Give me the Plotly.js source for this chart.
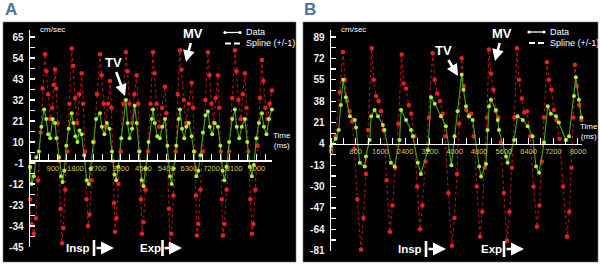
<!DOCTYPE html>
<html>
<head>
<meta charset="utf-8">
<script src="https://cdn.plot.ly/plotly-3.0.1.min.js"></script>
<style>html,body{margin:0;padding:0;background:#fff;}#chart{width:600px;height:265px;}</style>
</head>
<body>
<div id="chart"></div>
<script>
// ---------- Panel A data: [time ms, velocity cm/sec] ----------
const mvA = [[0,-20],[60,-33],[150,-38],[230,-30],[320,-10],[420,15],[500,38],[595,56],
[650,47],[720,35],[800,22],[880,28],[940,40],[991,48],[1040,38],[1100,20],[1160,0],[1210,-25],[1269,-43],
[1320,-35],[1400,-15],[1480,5],[1560,30],[1653,59],
[1710,50],[1790,33],[1870,20],[1960,35],[2050,46],[2110,30],[2180,5],[2240,-20],[2300,-34],
[2360,-28],[2440,-10],[2540,10],[2660,35],[2776,56],
[2840,45],[2920,30],[3000,18],[3090,30],[3172,42],[3230,28],[3290,0],[3330,-22],[3370,-37],
[3430,-30],[3510,-12],[3600,5],[3700,30],[3806,57],
[3870,47],[3950,30],[4050,20],[4140,35],[4231,45],[4290,30],[4350,5],[4400,-20],[4441,-38],
[4500,-32],[4580,-15],[4680,5],[4780,30],[4877,57],
[4940,46],[5020,30],[5120,18],[5240,28],[5353,39],[5410,25],[5470,0],[5510,-25],[5551,-44],
[5610,-38],[5690,-18],[5780,5],[5860,35],[5948,58],
[6010,48],[6100,32],[6200,20],[6300,30],[6411,41],[6470,28],[6530,5],[6580,-18],[6622,-39],
[6680,-33],[6760,-15],[6860,5],[6960,32],[7058,57],
[7120,45],[7200,30],[7290,20],[7370,33],[7454,45],[7510,28],[7570,5],[7610,-20],[7652,-39],
[7710,-33],[7800,-15],[7900,5],[8020,33],[8128,58],
[8190,47],[8270,32],[8360,22],[8440,35],[8525,46],[8590,28],[8660,5],[8740,-20],[8802,-38],
[8860,-33],[8940,-15],[9030,8],[9120,33],[9199,53],
[9260,42],[9340,28],[9420,22],[9510,30],[9595,37]];

const tvA = [[0,-3],[60,-12],[150,-8],[250,2],[350,5],[450,18],[560,27],[640,22],[720,14],[800,12],[900,22],[991,20],
[1050,12],[1150,2],[1230,-8],[1290,-11],[1360,-5],[1440,8],[1530,17],[1653,25],[1720,20],[1800,13],[1880,10],[1960,16],
[2050,14],[2150,3],[2250,-10],[2330,-12],[2400,-4],[2500,10],[2620,22],[2776,25],[2850,18],[2950,14],[3050,20],[3150,17],
[3250,5],[3350,-7],[3420,-10],[3500,-3],[3620,12],[3806,32],[3870,20],[3950,12],[4050,17],[4150,29],[4231,20],[4330,5],
[4430,-10],[4500,-13],[4580,-4],[4700,10],[4830,22],[4877,27],[4950,20],[5050,13],[5150,12],[5250,18],[5353,22],[5450,8],
[5550,-8],[5620,-12],[5700,-4],[5800,8],[5900,22],[5948,27],[6030,17],[6120,12],[6200,18],[6300,20],[6411,13],[6500,5],
[6600,-8],[6680,-5],[6760,3],[6860,15],[6960,24],[7058,26],[7130,18],[7230,14],[7330,20],[7454,18],[7550,8],[7640,-5],
[7710,-10],[7790,-3],[7900,10],[8020,22],[8128,27],[8200,18],[8300,12],[8400,18],[8525,22],[8620,10],[8720,-3],[8800,-8],
[8880,-2],[8980,12],[9080,20],[9199,25],[9280,18],[9380,14],[9480,22],[9595,27]];

const xTicksA = [0,900,1800,2700,3600,4500,5400,6300,7200,8100,9000];
const yTicksA = [65,54,43,32,21,10,-1,-12,-23,-34,-45];

// ---------- Panel B data ----------
const mvB = [[0,0],[150,10],[280,45],[389,77],[450,55],[520,38],[600,30],[680,22],[760,0],[850,-40],[971,-80],
[1050,-55],[1130,-20],[1200,15],[1318,80],[1380,55],[1460,42],[1540,38],[1620,30],[1700,15],[1800,-25],[1910,-66],
[1990,-45],[2080,-15],[2180,20],[2289,75],[2350,52],[2430,48],[2520,35],[2600,28],[2700,10],[2790,-30],[2882,-64],
[2960,-45],[3060,-10],[3170,25],[3293,76],[3360,55],[3440,44],[3530,38],[3620,28],[3700,10],[3800,-35],[3918,-77],
[4000,-55],[4080,-20],[4150,20],[4232,72],[4300,50],[4380,31],[4460,26],[4540,28],[4620,10],[4720,-30],[4825,-70],
[4900,-50],[4980,-15],[5050,25],[5116,79],[5180,60],[5260,47],[5340,30],[5420,25],[5500,5],[5600,-35],[5699,-73],
[5780,-50],[5860,-15],[5940,25],[6023,80],[6090,55],[6180,40],[6260,29],[6350,30],[6450,10],[6560,-30],[6670,-62],
[6750,-45],[6830,-10],[6900,25],[6994,69],[7060,55],[7140,47],[7220,31],[7300,23],[7400,8],[7520,-30],[7642,-70],
[7720,-50],[7790,-15],[7850,25],[7901,67],[7960,50],[8040,35],[8110,23]];

const tvB = [[0,2],[150,8],[250,15],[320,35],[389,55],[480,41],[610,26],[770,23],[810,17],[930,-11],[1090,-14],[1130,-6],
[1250,7],[1300,26],[1410,31],[1520,26],[1680,19],[1730,15],[1940,-11],[2060,-14],[2220,7],[2270,31],[2430,23],[2590,15],
[2650,10],[2810,-11],[2910,-20],[3140,-1],[3240,41],[3360,36],[3560,26],[3720,18],[3900,-13],[4000,10],[4100,30],[4232,59],
[4290,47],[4370,34],[4470,26],[4590,23],[4800,-14],[4860,-22],[5020,-12],[5070,15],[5120,34],[5180,39],[5340,31],[5400,23],
[5440,15],[5670,-6],[5720,-11],[5930,7],[6040,26],[6210,23],[6370,18],[6530,10],[6640,-14],[6740,-19],[6900,5],[7020,34],
[7120,28],[7290,26],[7380,21],[7610,7],[7710,10],[7870,42],[7930,57],[8030,39],[8110,25]];

const xTicksB = [0,800,1600,2400,3200,4000,4800,5600,6400,7200,8000];
const yTicksB = [89,72,55,38,21,4,-13,-30,-47,-64,-81];

const legendNames = ['Data', 'Spline (+/-1)'];

// ---------- styling ----------
const FONT = 'Liberation Sans, Arial, sans-serif';
const RED_LINE = '#b01616', RED_DOT = '#e42222';
const GRN_LINE = '#46a21c', GRN_DOT = '#b2ee36';
const YEL = '#d6ca44';
const X = px => px / 600;
const Y = py => 1 - py / 265;

function series(data, xa, ya, lineColor, dotColor, dash, msize) {
  return {
    x: data.map(p => p[0]), y: data.map(p => p[1]), xaxis: xa, yaxis: ya,
    type: 'scatter', mode: 'lines+markers', cliponaxis: false, showlegend: false,
    line: {color: lineColor, width: 1.1, dash: dash},
    marker: {color: dotColor, size: msize}
  };
}

const traces = [
  series(mvA, 'x', 'y', RED_LINE, RED_DOT, 'dot', 4.5),
  series(tvA, 'x', 'y', GRN_LINE, GRN_DOT, 'solid', 4),
  series(mvB, 'x2', 'y2', RED_LINE, RED_DOT, 'dot', 4.5),
  series(tvB, 'x2', 'y2', GRN_LINE, GRN_DOT, 'solid', 4)
];

// the origin label (first tick) sits on the axis crossing, where Plotly omits it; it is added as text below
function xAxis(domain, range, ticks, pos, minorDt) {
  const shown = ticks.slice(1);
  return {
    domain: domain, range: range, anchor: 'free', position: pos, side: 'bottom',
    showline: true, linecolor: 'white', linewidth: 1.5, showgrid: false, zeroline: false,
    tickmode: 'array', tickvals: shown, ticktext: shown.map(String), ticks: '',
    tickfont: {family: FONT, size: 7.5, color: YEL},
    minor: {ticks: 'inside', tick0: 0, dtick: minorDt, ticklen: 6, tickwidth: 1, tickcolor: 'white', showgrid: false}
  };
}
function yAxis(domain, range, ticks, xa, minorDt) {
  return {
    domain: domain, range: range, anchor: xa, showline: true, linecolor: 'white', linewidth: 1.5,
    showgrid: false, zeroline: false, tickmode: 'array', tickvals: ticks, ticktext: ticks.map(String),
    ticks: 'inside', ticklen: 5, tickwidth: 1.2, tickcolor: 'white', ticklabelstandoff: 3,
    tickfont: {family: FONT, size: 10, color: '#eeeeee', weight: 'bold'},
    minor: {ticks: 'inside', tick0: ticks[ticks.length - 1], dtick: minorDt, ticklen: 5, tickwidth: 1.2, tickcolor: 'white', showgrid: false}
  };
}

const txt = (text, x, y, size, bold, xanchor, color) => ({
  text: text, xref: 'paper', yref: 'paper', x: X(x), y: Y(y), showarrow: false,
  xanchor: xanchor || 'center', yanchor: 'middle',
  font: {family: FONT, size: size, color: color || 'white', weight: bold ? 'bold' : 'normal'}
});
const originLabel = (val, xa, ya, yPx) => ({
  text: String(val), xref: xa, yref: 'paper', x: val, y: Y(yPx), showarrow: false,
  xanchor: 'center', yanchor: 'middle', font: {family: FONT, size: 7.5, color: YEL}
});
const pointer = (text, hx, hy, ax, ay) => ({
  text: text, xref: 'paper', yref: 'paper', x: X(hx), y: Y(hy), ax: ax, ay: ay,
  showarrow: true, arrowhead: 2, arrowsize: 0.9, arrowwidth: 2.6, arrowcolor: 'white', standoff: 0,
  font: {family: FONT, size: 13, color: 'white', weight: 'bold'}
});
const phaseArrow = (hx, hy, len) => ({
  text: '', xref: 'paper', yref: 'paper', x: X(hx), y: Y(hy), ax: -len, ay: 0,
  showarrow: true, arrowhead: 2, arrowsize: 1, arrowwidth: 2.6, arrowcolor: 'white'
});
const vbar = (x, y0, y1) => ({type: 'line', xref: 'paper', yref: 'paper', x0: X(x), x1: X(x), y0: Y(y0), y1: Y(y1),
  line: {color: 'white', width: 2.6}});
const hline = (x0, x1, y, w) => ({type: 'line', xref: 'paper', yref: 'paper', x0: X(x0), x1: X(x1), y0: Y(y), y1: Y(y),
  line: {color: 'white', width: w}});
const dot = (x, y, r) => ({type: 'circle', xref: 'paper', yref: 'paper', x0: X(x - r), x1: X(x + r), y0: Y(y + r), y1: Y(y - r),
  fillcolor: 'white', line: {color: 'white', width: 0}});

function legendBox(sx, ty) {
  return {
    shapes: [hline(sx, sx + 17, ty, 1.3), dot(sx + 1, ty, 1.6), dot(sx + 16, ty, 1.6),
             hline(sx + 1, sx + 7, ty + 11, 2), hline(sx + 10, sx + 16, ty + 11, 2)],
    annotations: [txt(legendNames[0], sx + 20, ty, 9, false, 'left'),
                  txt(legendNames[1], sx + 20, ty + 11, 9, false, 'left')]
  };
}
const legA = legendBox(224, 32.5);
const legB = legendBox(528, 32);

const layout = {
  width: 600, height: 265, margin: {l: 0, r: 0, t: 0, b: 0},
  paper_bgcolor: 'white', plot_bgcolor: 'rgba(0,0,0,0)',
  font: {family: FONT}, showlegend: false,
  xaxis: xAxis([X(30), X(272)], [-1, 9600], xTicksA, Y(160), 360),
  yaxis: yAxis([Y(247), Y(30)], [-45, 68.67], yTicksA, 'x', 5.5),
  xaxis2: xAxis([X(331), X(582)], [-1, 8130], xTicksB, Y(143.9), 400),
  yaxis2: yAxis([Y(250.7), Y(30)], [-81, 94.57], yTicksB, 'x2', 8.5),
  shapes: [
    {type: 'rect', xref: 'paper', yref: 'paper', x0: X(3), x1: X(296), y0: Y(262), y1: Y(22),
     fillcolor: 'black', line: {color: '#777', width: 0.6}, layer: 'below'},
    {type: 'rect', xref: 'paper', yref: 'paper', x0: X(303), x1: X(598), y0: Y(262), y1: Y(22),
     fillcolor: 'black', line: {color: '#777', width: 0.6}, layer: 'below'},
    vbar(94, 240, 256), vbar(162.5, 240, 256), vbar(426, 241, 257), vbar(504, 241, 257),
    ...legA.shapes, ...legB.shapes
  ],
  annotations: [
    txt('A', 11, 10, 17, true, 'center', '#4d74a2'),
    txt('B', 310, 10, 17, true, 'center', '#4d74a2'),
    txt('cm/sec', 52, 30, 8, false),
    txt('cm/sec', 353, 30, 8, false),
    txt('Time<br>(ms)', 282, 140, 8, false),
    txt('Time<br>(ms)', 589, 131, 8, false),
    originLabel(xTicksA[0], 'x', 'y', 167.5),
    originLabel(xTicksB[0], 'x2', 'y2', 151.5),
    pointer('TV', 125, 96, -12, -33),
    pointer('MV', 186, 62, 7, -28),
    pointer('TV', 458, 76, -15, -25),
    pointer('MV', 495, 61, 7, -27),
    txt('Insp', 78, 248, 11.5, true),
    txt('Exp', 150, 248, 11.5, true),
    txt('Insp', 410, 249, 11.5, true),
    txt('Exp', 492, 249, 11.5, true),
    phaseArrow(114, 248, 19), phaseArrow(182, 248, 19),
    phaseArrow(446, 249, 19), phaseArrow(524, 249, 19),
    ...legA.annotations, ...legB.annotations
  ]
};

Plotly.newPlot('chart', traces, layout, {displayModeBar: false, staticPlot: true});
</script>
</body>
</html>
